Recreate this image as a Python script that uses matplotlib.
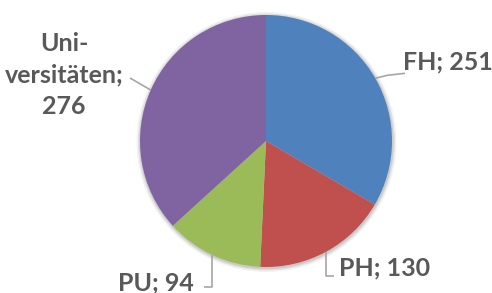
import numpy as np
import matplotlib.pyplot as plt

categories = ["FH", "PH", "PU", "Uni-\nversitäten"]
values = [251, 130, 94, 276]
colors = ["#4F81BD", "#C0504D", "#9BBB59", "#8064A2"]

W, H = 492, 293
fig = plt.figure(figsize=(W / 100, H / 100), dpi=100)
ax = fig.add_axes([0, 0, 1, 1])
ax.set_xlim(0, W)
ax.set_ylim(0, H)
ax.set_aspect("equal")
ax.axis("off")

cx, cy, r = 266, 152, 126

# soft shadow around the pie
for k, a in [(4, 0.05), (2.5, 0.07), (1.2, 0.09)]:
    ax.add_patch(plt.Circle((cx + 0.5, cy - 1), r + k, color="black", alpha=a, lw=0))

wedges, _ = ax.pie(values, colors=colors, startangle=90, counterclock=False,
                   center=(cx, cy), radius=r, wedgeprops=dict(linewidth=0))
ax.set_xlim(0, W)
ax.set_ylim(0, H)

txt_kw = dict(fontfamily="Lato", fontweight="bold", fontsize=18, color="#595959")
line_kw = dict(color="#A6A6A6", lw=1.2, solid_capstyle="butt")

# label positions (pixel space)
label_pos = [(448, 231), (385, 25), (156, 10), (64, 218)]

for w, cat, v, (tx, ty) in zip(wedges, categories, values, label_pos):
    ang = np.deg2rad((w.theta1 + w.theta2) / 2)
    ex, ey = cx + r * np.cos(ang), cy + r * np.sin(ang)
    ax.text(tx, ty, f"{cat};\n{v}" if "\n" in cat else f"{cat}; {v}",
            ha="center", va="center", linespacing=1.45, **txt_kw)
    if cat == "FH":
        ax.plot([ex, ex + 12, 405], [ey, ey + 3, ey + 5], **line_kw)
    elif cat == "PH":
        ax.plot([ex, ex, ex + 8], [ey, 17, 17], **line_kw)
    elif cat == "PU":
        ax.plot([ex, ex, ex - 8], [ey, 6, 6], **line_kw)
    else:
        ax.plot([ex, 130], [ey, 215], **line_kw)

fig.savefig("out.png", dpi=100)
